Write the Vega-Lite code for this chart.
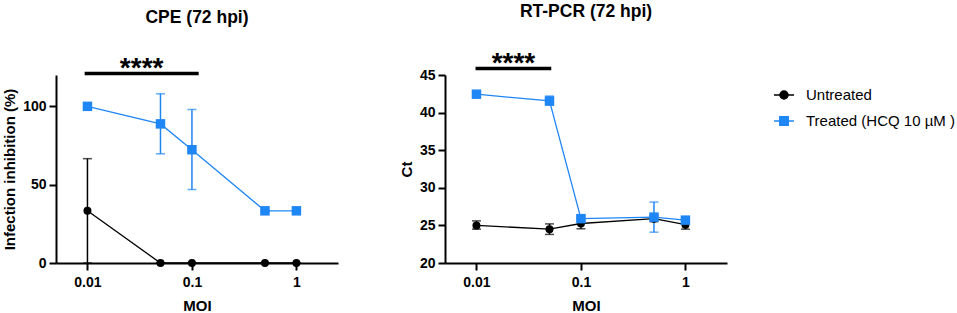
{
  "$schema": "https://vega.github.io/schema/vega-lite/v6.json",
  "background": "white",
  "padding": {"left": 2, "top": 3, "right": 0, "bottom": 0},
  "spacing": 61,
  "config": {
    "font": "Liberation Sans",
    "view": {"stroke": null},
    "axis": {
      "grid": false,
      "domainColor": "black",
      "domainWidth": 2,
      "tickColor": "black",
      "tickWidth": 2,
      "tickSize": 7,
      "labelFont": "Liberation Sans",
      "labelFontSize": 14,
      "labelFontWeight": "bold",
      "labelColor": "black",
      "labelPadding": 3,
      "titleFont": "Liberation Sans",
      "titleFontSize": 15,
      "titleFontWeight": "bold",
      "titleColor": "black"
    },
    "title": {"font": "Liberation Sans", "fontSize": 17.5, "fontWeight": "bold", "color": "black", "anchor": "middle", "frame": "group", "offset": 29},
    "legend": {
      "labelFont": "Liberation Sans",
      "labelFontSize": 15,
      "labelFontWeight": "normal",
      "labelColor": "black",
      "symbolSize": 400,
      "rowPadding": 7,
      "labelOffset": 11
    }
  },
  "datasets": {
    "cpe": [
      {"moi": 0.01, "series": "Untreated", "value": 33.3, "lo": 0, "hi": 66.6},
      {"moi": 0.05, "series": "Untreated", "value": 0, "lo": 0, "hi": 0},
      {"moi": 0.1, "series": "Untreated", "value": 0, "lo": 0, "hi": 0},
      {"moi": 0.5, "series": "Untreated", "value": 0, "lo": 0, "hi": 0},
      {"moi": 1, "series": "Untreated", "value": 0, "lo": 0, "hi": 0},
      {"moi": 0.01, "series": "Treated (HCQ 10 µM )", "value": 100, "lo": 100, "hi": 100},
      {"moi": 0.05, "series": "Treated (HCQ 10 µM )", "value": 88.8, "lo": 69.7, "hi": 108},
      {"moi": 0.1, "series": "Treated (HCQ 10 µM )", "value": 72.3, "lo": 46.9, "hi": 98},
      {"moi": 0.5, "series": "Treated (HCQ 10 µM )", "value": 33.3, "lo": 33.3, "hi": 33.3},
      {"moi": 1, "series": "Treated (HCQ 10 µM )", "value": 33.3, "lo": 33.3, "hi": 33.3}
    ],
    "pcr": [
      {"moi": 0.01, "series": "Untreated", "value": 25.0, "lo": 24.5, "hi": 25.6},
      {"moi": 0.05, "series": "Untreated", "value": 24.5, "lo": 23.8, "hi": 25.2},
      {"moi": 0.1, "series": "Untreated", "value": 25.25, "lo": 24.55, "hi": 25.95},
      {"moi": 0.5, "series": "Untreated", "value": 25.9, "lo": 25.5, "hi": 26.3},
      {"moi": 1, "series": "Untreated", "value": 25.1, "lo": 24.5, "hi": 25.7},
      {"moi": 0.01, "series": "Treated (HCQ 10 µM )", "value": 42.45, "lo": 42.2, "hi": 42.7},
      {"moi": 0.05, "series": "Treated (HCQ 10 µM )", "value": 41.55, "lo": 41.0, "hi": 42.2},
      {"moi": 0.1, "series": "Treated (HCQ 10 µM )", "value": 25.9, "lo": 25.6, "hi": 26.3},
      {"moi": 0.5, "series": "Treated (HCQ 10 µM )", "value": 26.1, "lo": 24.1, "hi": 28.1},
      {"moi": 1, "series": "Treated (HCQ 10 µM )", "value": 25.7, "lo": 25.4, "hi": 26.0}
    ],
    "cpeSig": [{"x1": 0.0094, "x2": 0.116, "y": 120.9, "xm": 0.033, "ys": 118.6, "label": "****"}],
    "pcrSig": [{"x1": 0.0098, "x2": 0.052, "y": 45.88, "xm": 0.0226, "ys": 45.41, "label": "****"}]
  },
  "hconcat": [
    {
      "width": 282,
      "height": 188,
      "title": "CPE (72 hpi)",
      "encoding": {
        "x": {"type": "quantitative", "scale": {"type": "log", "domain": [0.005, 2.5], "nice": false}, "axis": {"values": [0.01, 0.1, 1], "format": "~g", "title": "MOI", "titlePadding": 9, "labelPadding": 5}},
        "y": {"type": "quantitative", "scale": {"domain": [0, 120], "nice": false}, "axis": {"values": [0, 50, 100], "title": "Infection inhibition (%)", "titlePadding": 5}}
      },
      "layer": [
        {
          "data": {"name": "cpe"},
          "encoding": {
            "x": {"field": "moi", "type": "quantitative"},
            "color": {"field": "series", "type": "nominal", "scale": {"domain": ["Untreated", "Treated (HCQ 10 µM )"], "range": ["black", "#1F86F5"]},
              "legend": {"title": null, "orient": "none", "legendX": 717, "legendY": 9,
                "encoding": {"symbols": {
                  "shape": {"value": {"expr": "datum.value === 'Untreated' ? 'M-1,0H1M0.4,0A0.4,0.4,0,1,1,-0.4,0A0.4,0.4,0,1,1,0.4,0Z' : 'M-1,0H1M-0.42,-0.42H0.42V0.42H-0.42Z'"}},
                  "stroke": {"value": {"expr": "datum.value === 'Untreated' ? 'black' : '#1F86F5'"}},
                  "fill": {"value": {"expr": "datum.value === 'Untreated' ? 'black' : '#1F86F5'"}},
                  "strokeWidth": {"value": 1.5},
                  "opacity": {"value": 1}
                }}}}
          },
          "layer": [
            {"mark": {"type": "rule", "strokeWidth": 1.5}, "encoding": {"y": {"field": "lo", "type": "quantitative"}, "y2": {"field": "hi"}}},
            {"mark": {"type": "tick", "orient": "horizontal", "size": 9, "thickness": 1.5}, "encoding": {"y": {"field": "hi", "type": "quantitative"}}},
            {"mark": {"type": "tick", "orient": "horizontal", "size": 9, "thickness": 1.5}, "encoding": {"y": {"field": "lo", "type": "quantitative"}}},
            {"mark": {"type": "line", "strokeWidth": 1.3}, "encoding": {"y": {"field": "value", "type": "quantitative"}}},
            {"mark": {"type": "point", "filled": true, "opacity": 1}, "encoding": {"y": {"field": "value", "type": "quantitative"}, "shape": {"field": "series", "type": "nominal", "scale": {"domain": ["Treated (HCQ 10 µM )", "Untreated"], "range": ["square", "circle"]}, "legend": null}, "size": {"field": "series", "type": "nominal", "scale": {"domain": ["Treated (HCQ 10 µM )", "Untreated"], "range": [90, 64]}, "legend": null}}}
          ]
        },
        {
          "data": {"name": "cpeSig"},
          "mark": {"type": "rule", "strokeWidth": 3.5, "color": "black"},
          "encoding": {"x": {"field": "x1", "type": "quantitative"}, "x2": {"field": "x2"}, "y": {"field": "y", "type": "quantitative"}}
        },
        {
          "data": {"name": "cpeSig"},
          "mark": {"type": "text", "fontSize": 28, "fontWeight": "bold", "baseline": "alphabetic", "align": "center", "color": "black"},
          "encoding": {"x": {"field": "xm", "type": "quantitative"}, "y": {"field": "ys", "type": "quantitative"}, "text": {"field": "label"}}
        }
      ]
    },
    {
      "width": 282,
      "height": 188,
      "title": "RT-PCR (72 hpi)",
      "encoding": {
        "x": {"type": "quantitative", "scale": {"type": "log", "domain": [0.005, 2.5], "nice": false}, "axis": {"values": [0.01, 0.1, 1], "format": "~g", "title": "MOI", "titlePadding": 9, "labelPadding": 5}},
        "y": {"type": "quantitative", "scale": {"domain": [20, 45], "nice": false}, "axis": {"values": [20, 25, 30, 35, 40, 45], "title": "Ct", "titlePadding": 5}}
      },
      "layer": [
        {
          "data": {"name": "pcr"},
          "encoding": {
            "x": {"field": "moi", "type": "quantitative"},
            "color": {"field": "series", "type": "nominal", "scale": {"domain": ["Untreated", "Treated (HCQ 10 µM )"], "range": ["black", "#1F86F5"]},
              "legend": {"title": null, "orient": "none", "legendX": 717, "legendY": 9,
                "encoding": {"symbols": {
                  "shape": {"value": {"expr": "datum.value === 'Untreated' ? 'M-1,0H1M0.4,0A0.4,0.4,0,1,1,-0.4,0A0.4,0.4,0,1,1,0.4,0Z' : 'M-1,0H1M-0.42,-0.42H0.42V0.42H-0.42Z'"}},
                  "stroke": {"value": {"expr": "datum.value === 'Untreated' ? 'black' : '#1F86F5'"}},
                  "fill": {"value": {"expr": "datum.value === 'Untreated' ? 'black' : '#1F86F5'"}},
                  "strokeWidth": {"value": 1.5},
                  "opacity": {"value": 1}
                }}}}
          },
          "layer": [
            {"mark": {"type": "rule", "strokeWidth": 1.5}, "encoding": {"y": {"field": "lo", "type": "quantitative"}, "y2": {"field": "hi"}}},
            {"mark": {"type": "tick", "orient": "horizontal", "size": 9, "thickness": 1.5}, "encoding": {"y": {"field": "hi", "type": "quantitative"}}},
            {"mark": {"type": "tick", "orient": "horizontal", "size": 9, "thickness": 1.5}, "encoding": {"y": {"field": "lo", "type": "quantitative"}}},
            {"mark": {"type": "line", "strokeWidth": 1.3}, "encoding": {"y": {"field": "value", "type": "quantitative"}}},
            {"mark": {"type": "point", "filled": true, "opacity": 1}, "encoding": {"y": {"field": "value", "type": "quantitative"}, "shape": {"field": "series", "type": "nominal", "scale": {"domain": ["Treated (HCQ 10 µM )", "Untreated"], "range": ["square", "circle"]}, "legend": null}, "size": {"field": "series", "type": "nominal", "scale": {"domain": ["Treated (HCQ 10 µM )", "Untreated"], "range": [90, 64]}, "legend": null}}}
          ]
        },
        {
          "data": {"name": "pcrSig"},
          "mark": {"type": "rule", "strokeWidth": 3.5, "color": "black"},
          "encoding": {"x": {"field": "x1", "type": "quantitative"}, "x2": {"field": "x2"}, "y": {"field": "y", "type": "quantitative"}}
        },
        {
          "data": {"name": "pcrSig"},
          "mark": {"type": "text", "fontSize": 28, "fontWeight": "bold", "baseline": "alphabetic", "align": "center", "color": "black"},
          "encoding": {"x": {"field": "xm", "type": "quantitative"}, "y": {"field": "ys", "type": "quantitative"}, "text": {"field": "label"}}
        }
      ]
    }
  ]
}
